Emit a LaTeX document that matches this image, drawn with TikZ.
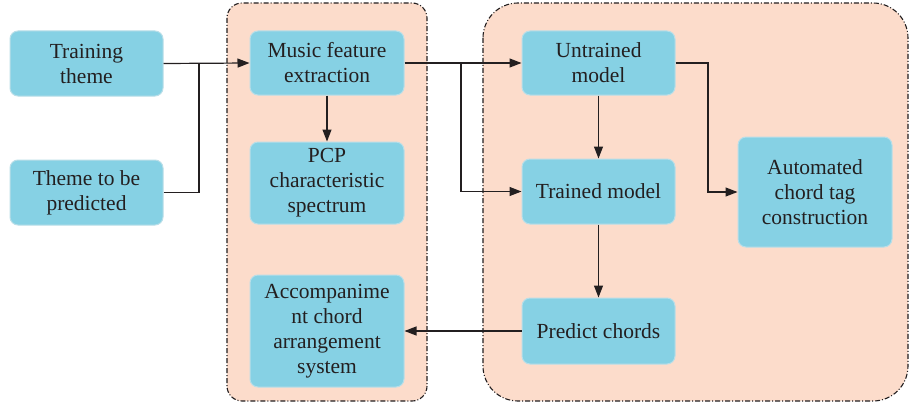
\documentclass[tikz,border=0pt]{standalone}
\usepackage{fontspec}
\setmainfont{Liberation Serif}
\usetikzlibrary{arrows.meta}
\definecolor{boxblue}{HTML}{86D1E4}
\definecolor{boxedge}{HTML}{B9DEE8}
\definecolor{panel}{HTML}{FCDCCB}
\definecolor{ink}{HTML}{231F20}
\tikzset{
  blk/.style={rectangle, rounded corners=8pt, fill=boxblue, draw=boxedge, line width=1pt,
    text=ink, align=center, inner sep=2pt, font=\fontsize{21.5}{25}\selectfont},
  panelbox/.style={fill=panel, draw=ink, line width=1.1pt,
    dash pattern=on 5pt off 2pt on 1pt off 2pt},
  conn/.style={draw=ink, line width=1.2pt},
  arr/.style={conn, -{Triangle[length=12pt,width=9pt]}}
}
\begin{document}
\begin{tikzpicture}[x=1pt,y=-1pt]
\useasboundingbox (0,0) rectangle (910,404);
\fill[white] (0,0) rectangle (910,404);
% panels
\path[panelbox, rounded corners=15pt] (227,3) rectangle (427,401);
\path[panelbox, rounded corners=35pt] (483,3) rectangle (908,401);
% nodes
\node[blk, minimum width=153pt, minimum height=65pt] (tt) at (86.5,63.5) {Training\\theme};
\node[blk, minimum width=153pt, minimum height=65pt] (tp) at (86.5,192.5) {Theme to be\\predicted};
\node[blk, minimum width=154pt, minimum height=64pt] (mfe) at (327,63) {Music feature\\extraction};
\node[blk, minimum width=154pt, minimum height=82pt] (pcp) at (327,183) {PCP\\characteristic\\spectrum};
\node[blk, minimum width=154pt, minimum height=112pt] (acc) at (327,331) {Accompanime\\nt chord\\arrangement\\system};
\node[blk, minimum width=153pt, minimum height=64pt] (um) at (598.5,63) {Untrained\\model};
\node[blk, minimum width=153pt, minimum height=65pt] (tm) at (598.5,191.5) {Trained model};
\node[blk, minimum width=153pt, minimum height=66pt] (pc) at (598.5,331) {Predict chords};
\node[blk, minimum width=154pt, minimum height=110pt] (ac) at (815,192) {Automated\\chord tag\\construction};
% junctions
\coordinate (j1) at (199,63);
\coordinate (j2) at (461,63);
\coordinate (j3) at (708,63);
% connectors
\draw[arr] (tt.east) -- (mfe.west);
\draw[conn] (tp.east) -| (j1);
\draw[arr] (mfe.east) -- (um.west);
\draw[arr] (j2) |- (tm.west);
\draw[arr] (mfe.south) -- (pcp.north);
\draw[arr] (um.south) -- (tm.north);
\draw[arr] (um.east) -- (j3) |- (ac.west);
\draw[arr] (tm.south) -- (pc.north);
\draw[arr] (pc.west) -- (acc.east);
\end{tikzpicture}
\end{document}
